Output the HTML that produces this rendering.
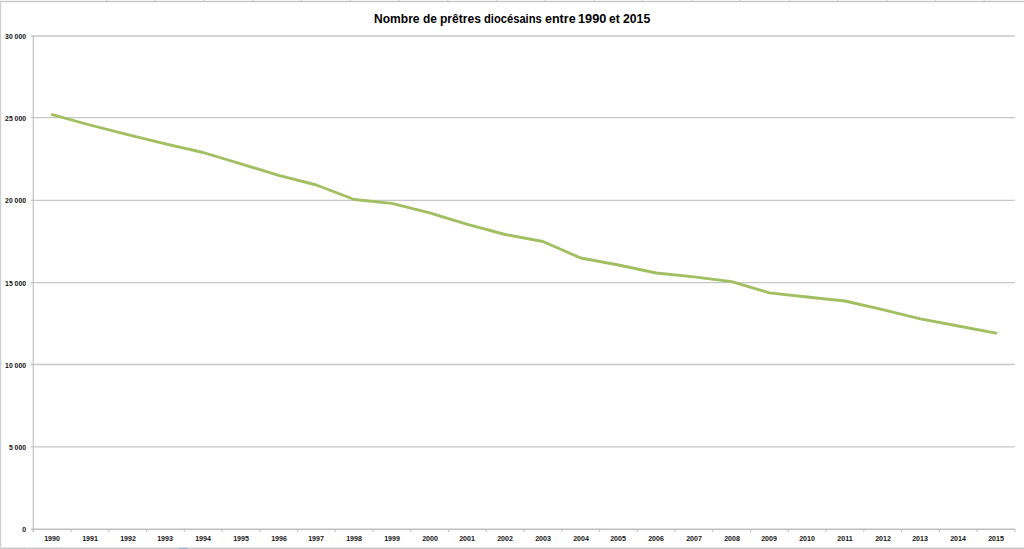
<!DOCTYPE html>
<html><head><meta charset="utf-8"><title>Chart</title>
<style>
html,body{margin:0;padding:0;background:#fff;}
body{width:1024px;height:549px;position:relative;overflow:hidden;font-family:"Liberation Sans",sans-serif;}
svg{position:absolute;left:0;top:0;}
.tw{position:absolute;top:11.6px;white-space:nowrap;font-weight:bold;font-size:12px;line-height:13px;color:#000;transform-origin:0 0;}
.yl{position:absolute;left:0;width:26px;text-align:right;font-weight:bold;font-size:7.6px;line-height:10px;height:10px;color:#111;white-space:nowrap;transform-origin:100% 50%;transform:scaleX(0.9);}
.xl{position:absolute;top:534.2px;width:40px;text-align:center;font-weight:bold;font-size:7.6px;line-height:10px;height:10px;color:#111;transform:scaleX(0.93);}
</style></head><body>
<svg width="1024" height="549" viewBox="0 0 1024 549">
<rect x="0" y="0" width="1024" height="1" fill="#f3f3f3"/>
<rect x="0" y="1" width="1024" height="1" fill="#c5c5c5"/>
<rect x="0" y="2" width="1024" height="1" fill="#f4f4f4"/>
<rect x="0" y="1" width="1" height="548" fill="#cecece"/>
<rect x="1" y="2" width="1" height="546" fill="#f5f5f5"/>
<rect x="0" y="547" width="1024" height="1" fill="#e6e6e6"/>
<rect x="0" y="548" width="1024" height="1" fill="#c9c9c9"/>
<rect x="23.9" y="548" width="1" height="1" fill="#b4b4b4"/>
<rect x="60.7" y="548" width="1" height="1" fill="#b4b4b4"/>
<rect x="179" y="548" width="8.5" height="1" fill="#8fb0d4"/>
<rect x="178.5" y="547" width="9.5" height="1" fill="#d3dfec"/>
<line x1="106.45" y1="0" x2="106.45" y2="1.5" stroke="#cccccc" stroke-width="1.2"/>
<line x1="155.21" y1="0" x2="155.21" y2="1.5" stroke="#cccccc" stroke-width="1.2"/>
<line x1="203.97" y1="0" x2="203.97" y2="1.5" stroke="#cccccc" stroke-width="1.2"/>
<line x1="252.73" y1="0" x2="252.73" y2="1.5" stroke="#cccccc" stroke-width="1.2"/>
<line x1="301.49" y1="0" x2="301.49" y2="1.5" stroke="#cccccc" stroke-width="1.2"/>
<line x1="350.25" y1="0" x2="350.25" y2="1.5" stroke="#cccccc" stroke-width="1.2"/>
<line x1="399.01" y1="0" x2="399.01" y2="1.5" stroke="#cccccc" stroke-width="1.2"/>
<line x1="447.77" y1="0" x2="447.77" y2="1.5" stroke="#cccccc" stroke-width="1.2"/>
<line x1="496.53" y1="0" x2="496.53" y2="1.5" stroke="#cccccc" stroke-width="1.2"/>
<line x1="545.29" y1="0" x2="545.29" y2="1.5" stroke="#cccccc" stroke-width="1.2"/>
<line x1="594.05" y1="0" x2="594.05" y2="1.5" stroke="#cccccc" stroke-width="1.2"/>
<line x1="642.81" y1="0" x2="642.81" y2="1.5" stroke="#cccccc" stroke-width="1.2"/>
<line x1="691.57" y1="0" x2="691.57" y2="1.5" stroke="#cccccc" stroke-width="1.2"/>
<line x1="740.33" y1="0" x2="740.33" y2="1.5" stroke="#cccccc" stroke-width="1.2"/>
<line x1="789.09" y1="0" x2="789.09" y2="1.5" stroke="#cccccc" stroke-width="1.2"/>
<line x1="837.85" y1="0" x2="837.85" y2="1.5" stroke="#cccccc" stroke-width="1.2"/>
<line x1="886.61" y1="0" x2="886.61" y2="1.5" stroke="#cccccc" stroke-width="1.2"/>
<line x1="935.37" y1="0" x2="935.37" y2="1.5" stroke="#cccccc" stroke-width="1.2"/>
<line x1="984.13" y1="0" x2="984.13" y2="1.5" stroke="#cccccc" stroke-width="1.2"/>

<line x1="30.799999999999997" y1="36.00" x2="1014.8" y2="36.00" stroke="#c6c6c6" stroke-width="1.3"/>
<line x1="30.799999999999997" y1="117.60" x2="1014.8" y2="117.60" stroke="#c6c6c6" stroke-width="1.3"/>
<line x1="30.799999999999997" y1="200.30" x2="1014.8" y2="200.30" stroke="#c6c6c6" stroke-width="1.3"/>
<line x1="30.799999999999997" y1="282.70" x2="1014.8" y2="282.70" stroke="#c6c6c6" stroke-width="1.3"/>
<line x1="30.799999999999997" y1="364.50" x2="1014.8" y2="364.50" stroke="#c6c6c6" stroke-width="1.3"/>
<line x1="30.799999999999997" y1="446.90" x2="1014.8" y2="446.90" stroke="#c6c6c6" stroke-width="1.3"/>

<line x1="30.799999999999997" y1="529.2" x2="1015.3" y2="529.2" stroke="#bebebe" stroke-width="1.4"/>
<line x1="33.3" y1="36.0" x2="33.3" y2="531.9000000000001" stroke="#c0c0c0" stroke-width="1.2"/>
<line x1="33.30" y1="529.2" x2="33.30" y2="531.9000000000001" stroke="#c0c0c0" stroke-width="1.1"/>
<line x1="71.05" y1="529.2" x2="71.05" y2="531.9000000000001" stroke="#c0c0c0" stroke-width="1.1"/>
<line x1="108.80" y1="529.2" x2="108.80" y2="531.9000000000001" stroke="#c0c0c0" stroke-width="1.1"/>
<line x1="146.55" y1="529.2" x2="146.55" y2="531.9000000000001" stroke="#c0c0c0" stroke-width="1.1"/>
<line x1="184.30" y1="529.2" x2="184.30" y2="531.9000000000001" stroke="#c0c0c0" stroke-width="1.1"/>
<line x1="222.05" y1="529.2" x2="222.05" y2="531.9000000000001" stroke="#c0c0c0" stroke-width="1.1"/>
<line x1="259.80" y1="529.2" x2="259.80" y2="531.9000000000001" stroke="#c0c0c0" stroke-width="1.1"/>
<line x1="297.55" y1="529.2" x2="297.55" y2="531.9000000000001" stroke="#c0c0c0" stroke-width="1.1"/>
<line x1="335.30" y1="529.2" x2="335.30" y2="531.9000000000001" stroke="#c0c0c0" stroke-width="1.1"/>
<line x1="373.05" y1="529.2" x2="373.05" y2="531.9000000000001" stroke="#c0c0c0" stroke-width="1.1"/>
<line x1="410.80" y1="529.2" x2="410.80" y2="531.9000000000001" stroke="#c0c0c0" stroke-width="1.1"/>
<line x1="448.55" y1="529.2" x2="448.55" y2="531.9000000000001" stroke="#c0c0c0" stroke-width="1.1"/>
<line x1="486.30" y1="529.2" x2="486.30" y2="531.9000000000001" stroke="#c0c0c0" stroke-width="1.1"/>
<line x1="524.05" y1="529.2" x2="524.05" y2="531.9000000000001" stroke="#c0c0c0" stroke-width="1.1"/>
<line x1="561.80" y1="529.2" x2="561.80" y2="531.9000000000001" stroke="#c0c0c0" stroke-width="1.1"/>
<line x1="599.55" y1="529.2" x2="599.55" y2="531.9000000000001" stroke="#c0c0c0" stroke-width="1.1"/>
<line x1="637.30" y1="529.2" x2="637.30" y2="531.9000000000001" stroke="#c0c0c0" stroke-width="1.1"/>
<line x1="675.05" y1="529.2" x2="675.05" y2="531.9000000000001" stroke="#c0c0c0" stroke-width="1.1"/>
<line x1="712.80" y1="529.2" x2="712.80" y2="531.9000000000001" stroke="#c0c0c0" stroke-width="1.1"/>
<line x1="750.55" y1="529.2" x2="750.55" y2="531.9000000000001" stroke="#c0c0c0" stroke-width="1.1"/>
<line x1="788.30" y1="529.2" x2="788.30" y2="531.9000000000001" stroke="#c0c0c0" stroke-width="1.1"/>
<line x1="826.05" y1="529.2" x2="826.05" y2="531.9000000000001" stroke="#c0c0c0" stroke-width="1.1"/>
<line x1="863.80" y1="529.2" x2="863.80" y2="531.9000000000001" stroke="#c0c0c0" stroke-width="1.1"/>
<line x1="901.55" y1="529.2" x2="901.55" y2="531.9000000000001" stroke="#c0c0c0" stroke-width="1.1"/>
<line x1="939.30" y1="529.2" x2="939.30" y2="531.9000000000001" stroke="#c0c0c0" stroke-width="1.1"/>
<line x1="977.05" y1="529.2" x2="977.05" y2="531.9000000000001" stroke="#c0c0c0" stroke-width="1.1"/>
<line x1="1014.80" y1="529.2" x2="1014.80" y2="531.9000000000001" stroke="#c0c0c0" stroke-width="1.1"/>

<polyline points="52.17,114.60 89.92,125.00 127.67,134.60 165.43,143.90 203.18,152.50 240.93,163.80 278.68,175.40 316.43,185.00 354.18,199.50 391.93,203.30 429.68,212.80 467.43,224.40 505.18,234.50 542.92,241.50 580.67,258.00 618.42,265.00 656.17,273.00 693.92,276.80 731.67,281.60 769.42,292.80 807.17,297.00 844.92,301.00 882.67,309.60 920.42,318.90 958.17,326.00 995.92,333.10" fill="none" stroke="#a1bf61" stroke-width="2.85" stroke-linecap="round" stroke-linejoin="round"/>
</svg>
<div id="title">
<span class="tw" style="left:373.58px;transform:translateY(0.55px) scaleX(1.005)">Nombre</span>
<span class="tw" style="left:422.66px;transform:translateY(0.55px) scaleX(0.993)">de</span>
<span class="tw" style="left:439.68px;transform:translateY(0.55px) scaleX(1.006)">prêtres</span>
<span class="tw" style="left:483.89px;transform:translateY(0.55px) scaleX(0.931)">diocésains</span>
<span class="tw" style="left:544.83px;transform:translateY(0.55px) scaleX(1.044)">entre</span>
<span class="tw" style="left:578.03px;transform:translateY(0.55px) scaleX(1.061)">1990</span>
<span class="tw" style="left:608.85px;transform:translateY(0.55px) scaleX(1.001)">et</span>
<span class="tw" style="left:623.24px;transform:translateY(0.55px) scaleX(1.019)">2015</span>
</div>
<div class="yl" style="top:32.00px">30 000</div>
<div class="yl" style="top:114.00px">25 000</div>
<div class="yl" style="top:196.00px">20 000</div>
<div class="yl" style="top:279.00px">15 000</div>
<div class="yl" style="top:361.00px">10 000</div>
<div class="yl" style="top:443.00px">5 000</div>
<div class="yl" style="top:525.00px">0</div>

<div class="xl" style="left:32.17px">1990</div>
<div class="xl" style="left:69.92px">1991</div>
<div class="xl" style="left:107.67px">1992</div>
<div class="xl" style="left:145.43px">1993</div>
<div class="xl" style="left:183.18px">1994</div>
<div class="xl" style="left:220.93px">1995</div>
<div class="xl" style="left:258.68px">1996</div>
<div class="xl" style="left:296.43px">1997</div>
<div class="xl" style="left:334.18px">1998</div>
<div class="xl" style="left:371.93px">1999</div>
<div class="xl" style="left:409.68px">2000</div>
<div class="xl" style="left:447.43px">2001</div>
<div class="xl" style="left:485.18px">2002</div>
<div class="xl" style="left:522.92px">2003</div>
<div class="xl" style="left:560.67px">2004</div>
<div class="xl" style="left:598.42px">2005</div>
<div class="xl" style="left:636.17px">2006</div>
<div class="xl" style="left:673.92px">2007</div>
<div class="xl" style="left:711.67px">2008</div>
<div class="xl" style="left:749.42px">2009</div>
<div class="xl" style="left:787.17px">2010</div>
<div class="xl" style="left:824.92px">2011</div>
<div class="xl" style="left:862.67px">2012</div>
<div class="xl" style="left:900.42px">2013</div>
<div class="xl" style="left:938.17px">2014</div>
<div class="xl" style="left:975.92px">2015</div>

</body></html>
